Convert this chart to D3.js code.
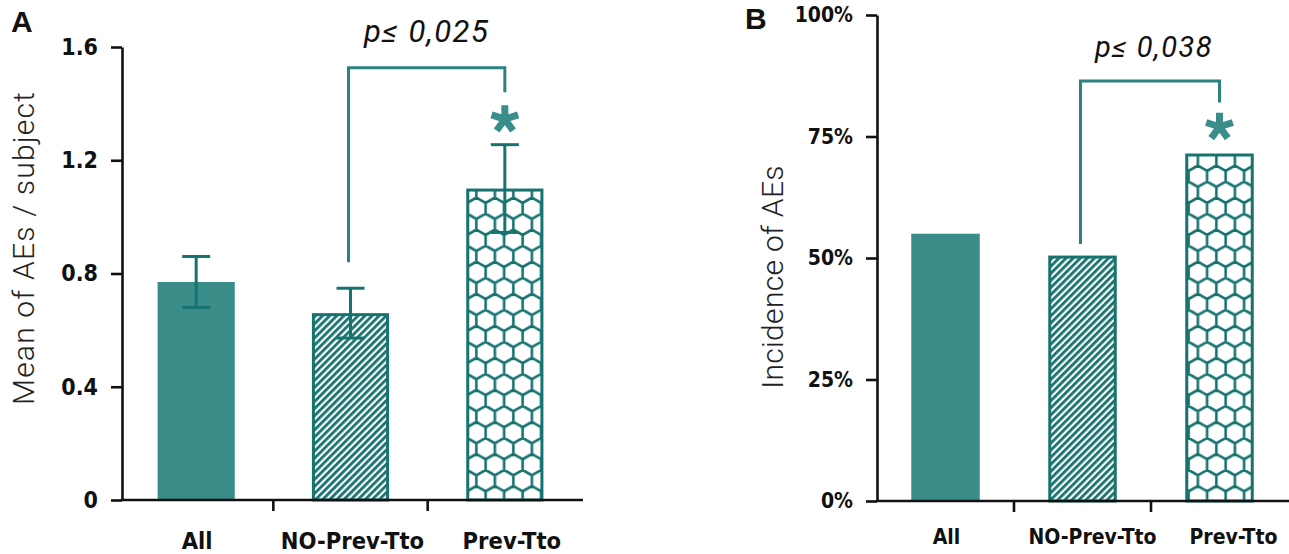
<!DOCTYPE html>
<html><head><meta charset="utf-8">
<script src="https://cdn.jsdelivr.net/npm/d3@7"></script>
<style>
body{margin:0;background:#fff;}
.tick text{font-family:'DejaVu Sans Condensed','DejaVu Sans',sans-serif;font-stretch:condensed;font-weight:bold;fill:#111;}
</style>
</head><body>
<svg id="chart" width="1289" height="554"></svg>
<script>
// ---- data ----
const categories = ["All", "NO-Prev-Tto", "Prev-Tto"];
const meanAEs = [0.77, 0.66, 1.10];
const meanErr = [0.09, 0.088, 0.155];
const incidence = [55, 50.5, 71.5];
const ticksA = [0, 0.4, 0.8, 1.2, 1.6];
const ticksB = [0, 25, 50, 75, 100];
const pLabels = ["p\u2264 0,025", "p\u2264 0,038"];
const panelLabels = ["A", "B"];
const yTitles = ["Mean of AEs / subject", "Incidence of AEs"];
const fills = ["solid", "hatch", "hex"];

// ---- style ----
const solid = "#3a8c89", dark = "#17736f", brk = "#2b8380", star = "#3a8d8a";

const svg = d3.select("#chart");
const defs = svg.append("defs");

// hatch pattern
const hp = defs.append("pattern").attr("id", "hatch").attr("patternUnits", "userSpaceOnUse")
  .attr("width", 5).attr("height", 5).attr("patternTransform", "rotate(45)");
hp.append("rect").attr("width", 5).attr("height", 5).attr("fill", "#fff");
hp.append("rect").attr("width", 2.8).attr("height", 5).attr("fill", dark);

// hex pattern (pointy top)
const Wh = 18.5, R = Wh / Math.sqrt(3);
const hx = defs.append("pattern").attr("id", "hex").attr("patternUnits", "userSpaceOnUse")
  .attr("width", Wh).attr("height", 3 * R).attr("x", 0).attr("y", 0);
hx.append("rect").attr("width", Wh).attr("height", 3 * R).attr("fill", "#fff");
function hexPath(cx, cy) {
  const pts = d3.range(6).map(k => {
    const a = (-90 + 60 * k) * Math.PI / 180;
    return [cx + R * Math.cos(a), cy + R * Math.sin(a)];
  });
  return "M" + pts.map(p => p.join(",")).join("L") + "Z";
}
let hd = "";
for (let i = -1; i <= 2; i++) for (let j = -1; j <= 3; j++) {
  hd += hexPath(i * Wh + (j % 2 ? Wh / 2 : 0) + Wh / 4, j * 1.5 * R);
}
hx.append("path").attr("d", hd).attr("fill", "none").attr("stroke", dark).attr("stroke-width", 2.6);

function starPath(cx, cy, r) {
  return d3.range(5).map(k => {
    const a = (-90 + 72 * k) * Math.PI / 180;
    return `M${cx},${cy}L${cx + r * Math.cos(a)},${cy + r * Math.sin(a)}`;
  }).join("");
}

function panel(cfg) {
  const g = svg.append("g");
  const x = d3.scaleBand().domain(categories).range(cfg.xRange).padding(0);
  const y = d3.scaleLinear().domain(cfg.yDomain).range(cfg.yRange);
  const bw = x.bandwidth() * cfg.barFrac;
  const cx = c => x(c) + x.bandwidth() / 2;

  // bars
  categories.forEach((c, i) => {
    const v = cfg.values[i];
    const f = fills[i];
    if (f === "solid") {
      g.append("rect").attr("x", cx(c) - bw / 2).attr("y", y(v)).attr("width", bw)
        .attr("height", y(0) - y(v)).attr("fill", solid);
    } else {
      g.append("rect").attr("x", cx(c) - bw / 2 + 1.5).attr("y", y(v) + 1.5).attr("width", bw - 3)
        .attr("height", y(0) - y(v) - 1.5).attr("fill", `url(#${f})`)
        .attr("stroke", dark).attr("stroke-width", 3);
    }
  });

  // error bars
  if (cfg.err) {
    categories.forEach((c, i) => {
      const v = cfg.values[i], e = cfg.err[i], xc = cx(c);
      const eg = g.append("g").attr("stroke", dark).attr("stroke-width", 3).attr("fill", "none");
      eg.append("line").attr("x1", xc).attr("x2", xc).attr("y1", y(v + e)).attr("y2", y(v - e));
      eg.append("line").attr("x1", xc - 14).attr("x2", xc + 14).attr("y1", y(v + e)).attr("y2", y(v + e));
      eg.append("line").attr("x1", xc - 14).attr("x2", xc + 14).attr("y1", y(v - e)).attr("y2", y(v - e));
    });
  }

  // y axis
  const ya = g.append("g").attr("transform", `translate(${cfg.xRange[0] + cfg.axisShift},0)`)
    .call(d3.axisLeft(y).tickValues(cfg.ticks).tickFormat(cfg.fmt).tickSize(11).tickSizeOuter(0).tickPadding(13));
  ya.select(".domain").attr("stroke", "#111").attr("stroke-width", 2.6);
  ya.selectAll(".tick line").attr("stroke", "#111").attr("stroke-width", 2.6);
  ya.selectAll(".tick text").attr("font-size", cfg.tickFs);

  // x axis
  const xa = g.append("g").attr("transform", `translate(0,${y(0)})`)
    .call(d3.axisBottom(x).tickSize(0).tickPadding(cfg.xPad).tickSizeOuter(0));
  xa.select(".domain").attr("stroke", "#111").attr("stroke-width", 2.6)
    .attr("d", `M${cfg.xRange[0] + cfg.axisShift - 1.3},0H${cfg.xEnd}`);
  xa.selectAll(".tick text").attr("font-size", cfg.xFs).attr("dx", (d, i) => cfg.labelDx[i]);
  categories.slice(1).forEach(c => {
    xa.append("line").attr("x1", x(c)).attr("x2", x(c)).attr("y1", 0).attr("y2", 11)
      .attr("stroke", "#111").attr("stroke-width", 2.6);
  });

  // y title
  g.append("text").attr("transform", `translate(${cfg.titleX},${cfg.titleY}) rotate(-90)`)
    .attr("text-anchor", "middle").attr("font-family", "Roboto, sans-serif").attr("font-weight", 300)
    .attr("font-size", 30).attr("letter-spacing", cfg.titleLs).attr("fill", "#222").text(cfg.title);

  // panel letter
  g.append("text").attr("x", cfg.letterX).attr("y", cfg.letterY).attr("font-family", "'Liberation Sans', Arial, sans-serif")
    .attr("font-weight", "bold").attr("font-size", 30).attr("fill", "#111").text(cfg.letter);

  // significance bracket
  const b = cfg.bracket;
  const xl = cx(categories[1]) - 2, xr = cx(categories[2]);
  g.append("path").attr("d", `M${xl},${y(b.left)}V${y(b.top)}H${xr}V${y(b.right)}`)
    .attr("fill", "none").attr("stroke", brk).attr("stroke-width", 3);
  g.append("path").attr("d", starPath(xr, y(b.star), 14)).attr("stroke", star).attr("stroke-width", 7)
    .attr("fill", "none");
  g.append("text").attr("x", (xl + xr) / 2 + cfg.pShift).attr("y", cfg.pY).attr("text-anchor", "middle")
    .attr("font-family", "Roboto, sans-serif").attr("font-weight", 400).attr("font-style", "italic")
    .attr("font-size", cfg.pFs).attr("letter-spacing", 1.5).attr("fill", "#111").text(cfg.p);
}

panel({
  xRange: [119, 582], xEnd: 583, axisShift: 3, yDomain: [0, 1.6], yRange: [500, 47], barFrac: 0.5,
  values: meanAEs, err: meanErr, ticks: ticksA,
  fmt: d => d === 0 ? "0" : d3.format(".1f")(d), tickFs: 23, xFs: 23.5, xPad: 32, labelDx: [1, 2, 7],
  title: yTitles[0], titleX: 34, titleY: 248, titleLs: 1.2, letter: panelLabels[0], letterX: 11, letterY: 32,
  bracket: { left: 0.84, top: 1.527, right: 1.44, star: 1.345 }, p: pLabels[0], pY: 42, pShift: 0, pFs: 31
});
panel({
  xRange: [877, 1288], xEnd: 1289, axisShift: 0, yDomain: [0, 100], yRange: [501, 15], barFrac: 0.5,
  values: incidence, err: null, ticks: ticksB,
  fmt: d => d + "%", tickFs: 21, xFs: 21, xPad: 28, labelDx: [1, 10, 14],
  title: yTitles[1], titleX: 783, titleY: 277, titleLs: 0.3, letter: panelLabels[1], letterX: 745, letterY: 29,
  bracket: { left: 52.9, top: 86.4, right: 82, star: 77 }, p: pLabels[1], pY: 57, pShift: 4, pFs: 29
});
</script>
</body></html>
